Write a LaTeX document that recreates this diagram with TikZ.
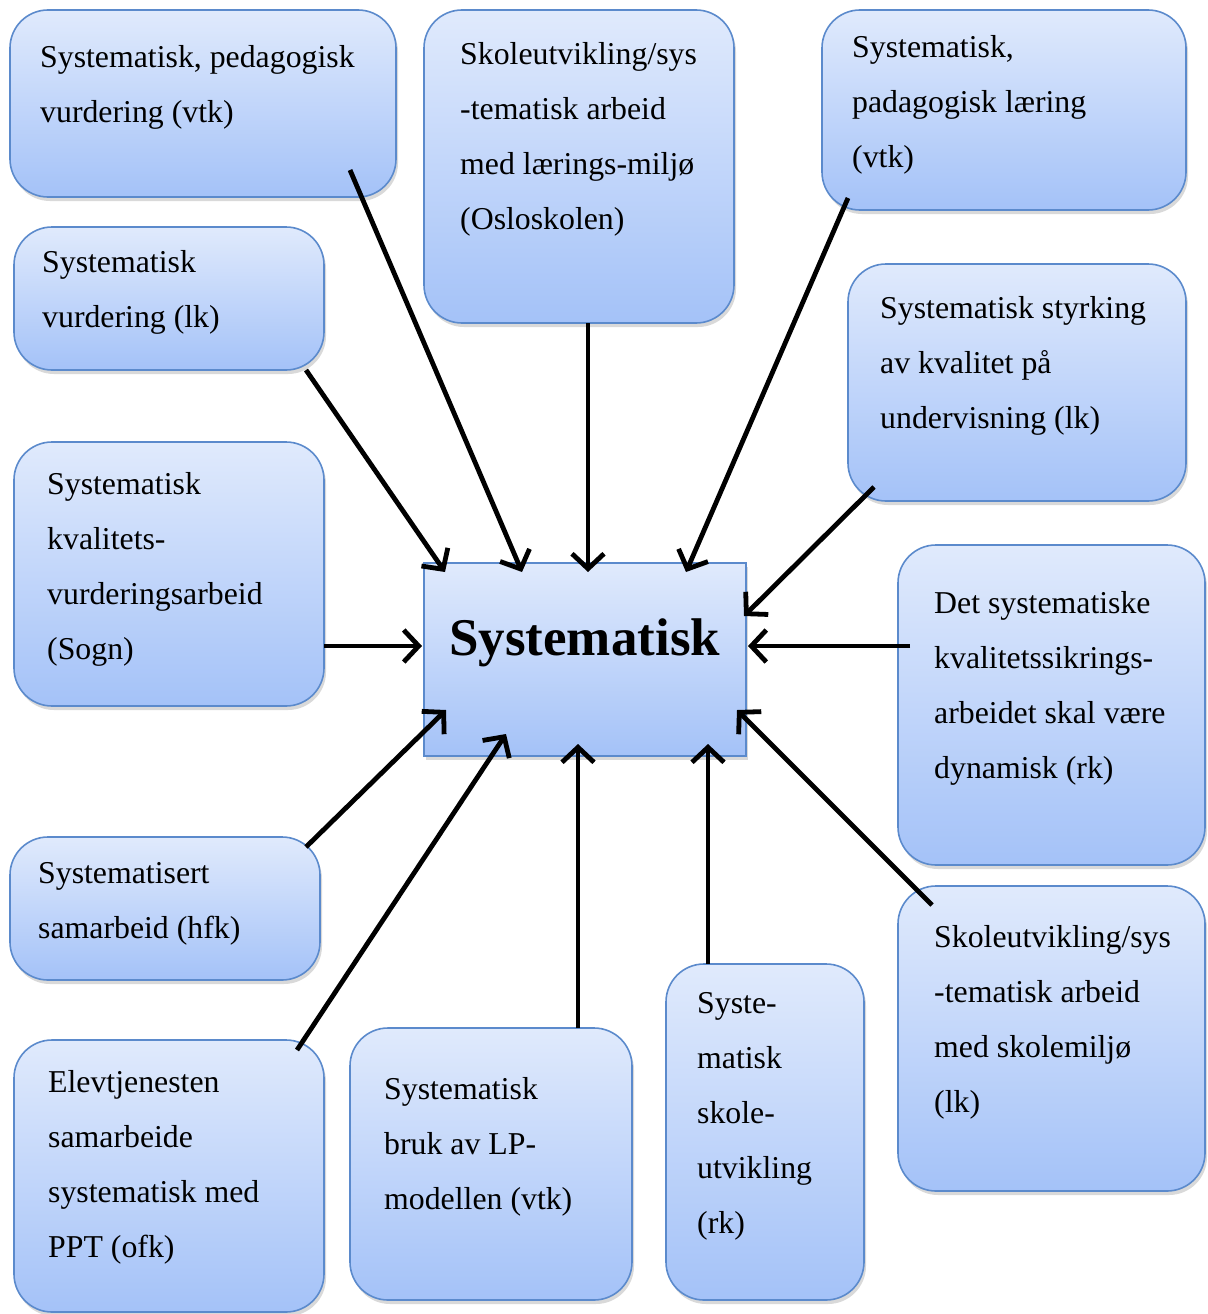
\documentclass[tikz,border=0pt]{standalone}
\usepackage{fontspec}
\setmainfont{Liberation Serif}
\usetikzlibrary{arrows.meta,shadows}
\definecolor{boxtop}{RGB}{224,234,252}
\definecolor{boxbot}{RGB}{164,194,248}
\definecolor{boxline}{RGB}{91,138,204}
\tikzset{
  card/.style={draw=boxline, line width=1.6pt, rounded corners=38pt,
    top color=boxtop, bottom color=boxbot, outer sep=0pt, inner sep=0pt,
    anchor=north west,
    drop shadow={shadow xshift=2pt, shadow yshift=-4pt, opacity=0.3}},
  hub/.style={card, rounded corners=0pt},
  % base anchor of a multi-line node sits on its last line
  cardtext/.style={font=\fontsize{31.8}{55}\selectfont, align=left,
    inner sep=0pt, anchor=base west},
  feed/.style={line width=4.8pt, -{Straight Barb[length=15pt, width=32pt]}}
}
\begin{document}
\begin{tikzpicture}[x=1pt, y=-1pt]
  \useasboundingbox (0,0) rectangle (1207,1314);

  % boxes
  \node[card, minimum width=386pt, minimum height=187pt] (b1) at (10,10) {};
  \node[card, minimum width=310pt, minimum height=313pt] (b2) at (424,10) {};
  \node[card, minimum width=364pt, minimum height=200pt] (b3) at (822,10) {};
  \node[card, minimum width=310pt, minimum height=143pt] (b4) at (14,227) {};
  \node[card, minimum width=338pt, minimum height=237pt] (b5) at (848,264) {};
  \node[card, minimum width=310pt, minimum height=264pt] (b6) at (14,442) {};
  \node[hub,  minimum width=322pt, minimum height=193pt] (hub) at (424,563) {};
  \node[card, minimum width=307pt, minimum height=320pt] (b7) at (898,545) {};
  \node[card, minimum width=310pt, minimum height=143pt] (b8) at (10,837) {};
  \node[card, minimum width=307pt, minimum height=305pt] (b9) at (898,886) {};
  \node[card, minimum width=310pt, minimum height=272pt] (b10) at (14,1040) {};
  \node[card, minimum width=282pt, minimum height=272pt] (b11) at (350,1028) {};
  \node[card, minimum width=198pt, minimum height=336pt] (b12) at (666,964) {};

  % texts (positioned by the baseline of their last line)
  \node[cardtext] (t1) at (40,122) {Systematisk, pedagogisk\\vurdering (vtk)};
  \node[cardtext] (t2) at (460,229) {Skoleutvikling/sys\\-tematisk arbeid\\med lærings-miljø\\(Osloskolen)};
  \node[cardtext] (t3) at (852,167) {Systematisk,\\padagogisk læring\\(vtk)};
  \node[cardtext] (t4) at (42,327) {Systematisk\\vurdering (lk)};
  \node[cardtext] (t5) at (880,428) {Systematisk styrking\\av kvalitet på\\undervisning (lk)};
  \node[cardtext] (t6) at (47,659) {Systematisk\\kvalitets-\\vurderingsarbeid\\(Sogn)};
  \node[font=\fontsize{53}{60}\selectfont\bfseries, inner sep=0pt, anchor=base west] (th) at (449,655) {Systematisk};
  \node[cardtext] (t7) at (934,778) {Det systematiske\\kvalitetssikrings-\\arbeidet skal være\\dynamisk (rk)};
  \node[cardtext] (t8) at (38,938) {Systematisert\\samarbeid (hfk)};
  \node[cardtext] (t9) at (934,1112) {Skoleutvikling/sys\\-tematisk arbeid\\med skolemiljø\\(lk)};
  \node[cardtext] (t10) at (48,1257) {Elevtjenesten\\samarbeide\\systematisk med\\PPT (ofk)};
  \node[cardtext] (t11) at (384,1209) {Systematisk\\bruk av LP-\\modellen (vtk)};
  \node[cardtext] (t12) at (697,1233) {Syste-\\matisk\\skole-\\utvikling\\(rk)};

  % connector ends
  \coordinate (s1) at (350,170);  \coordinate (e1) at (522,572);
  \coordinate (s4) at (306,370);  \coordinate (e4) at (445,572);
  \coordinate (s2) at (588,323);  \coordinate (e2) at (588,572);
  \coordinate (s3) at (848,198);  \coordinate (e3) at (686,572);
  \coordinate (s5) at (874,487);  \coordinate (e5) at (744,616);
  \coordinate (s6) at (324,646);  \coordinate (e6) at (422,646);
  \coordinate (s7) at (910,646);  \coordinate (e7) at (748,646);
  \coordinate (s8) at (306,847);  \coordinate (e8) at (446,710);
  \coordinate (s10) at (297,1050); \coordinate (e10) at (506,734);
  \coordinate (s11) at (578,1028); \coordinate (e11) at (578,744);
  \coordinate (s12) at (708,964);  \coordinate (e12) at (708,744);
  \coordinate (s9) at (932,905);   \coordinate (e9) at (737,710);

  % connectors into the hub
  \foreach \k in {1,2,3,4,5,6,7,8,9,10,11,12}
    \draw[feed] (s\k) -- (e\k);
\end{tikzpicture}
\end{document}
